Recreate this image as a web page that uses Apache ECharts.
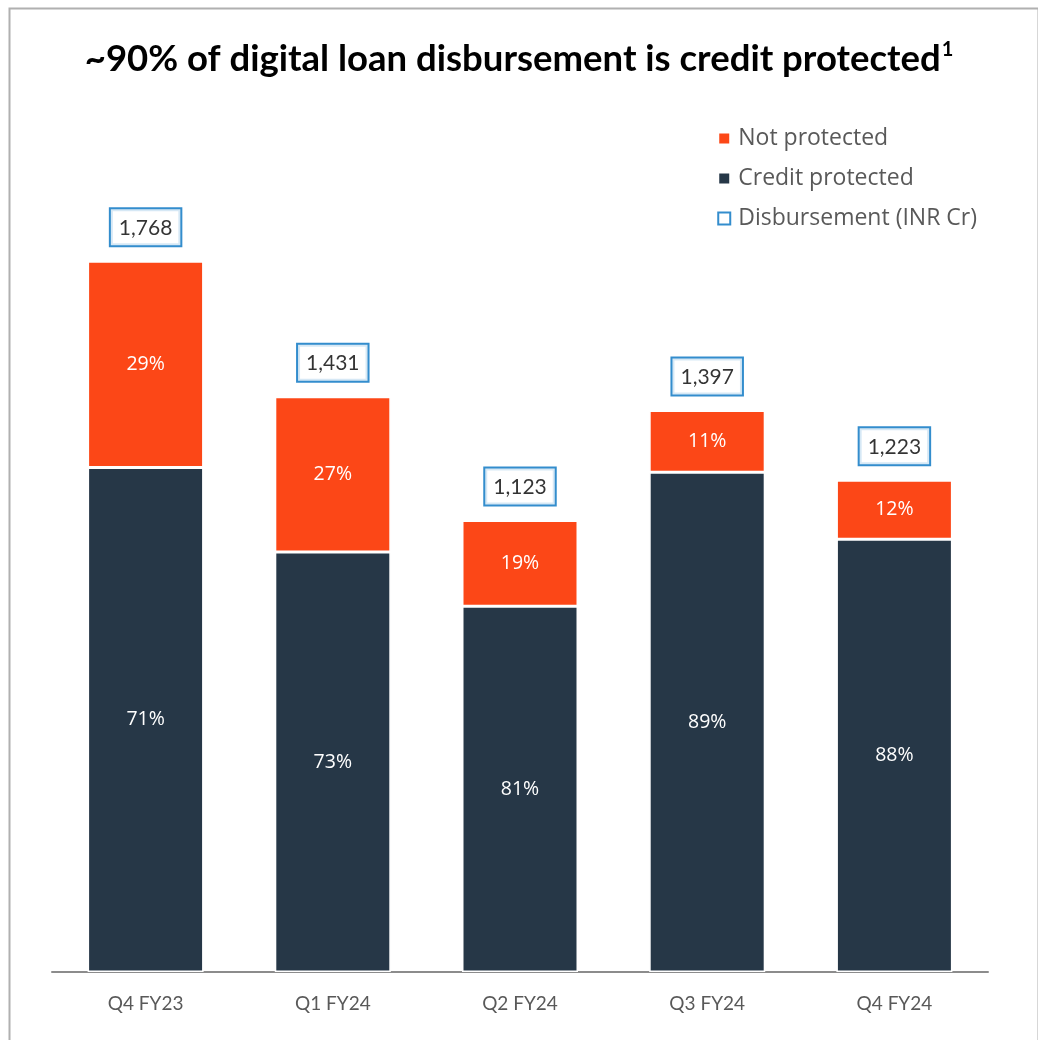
<!DOCTYPE html>
<html>
<head>
<meta charset="utf-8">
<script src="https://cdn.jsdelivr.net/npm/echarts@6/dist/echarts.min.js"></script>
<style>html,body{margin:0;padding:0;background:#fff}#c{width:1038px;height:1040px}</style>
</head>
<body>
<div id="c"></div>
<script>
const categories = ['Q4 FY23', 'Q1 FY24', 'Q2 FY24', 'Q3 FY24', 'Q4 FY24'];
const disbursement = [1768, 1431, 1123, 1397, 1223];
const protectedPct = [71, 73, 81, 89, 88];
const notProtectedPct = [29, 27, 19, 11, 12];

const protectedVals = disbursement.map((t, i) => t * protectedPct[i] / 100);
const notProtectedVals = disbursement.map((t, i) => t * notProtectedPct[i] / 100);

const FONT = 'Lato';
const FONT2 = 'Open Sans';
const chart = echarts.init(document.getElementById('c'));
chart.setOption({
  animation: false,
  backgroundColor: '#fff',
  graphic: [{
    type: 'rect', left: 7, top: 6,
    shape: { width: 1029, height: 1060 },
    style: { fill: 'none', stroke: '#b0b0b0', lineWidth: 2 }, silent: true
  }],
  title: {
    left: 'center', top: 35,
    text: '{t|~90% of digital loan disbursement is credit protected}{s|1}',
    textStyle: {
      rich: {
        t: { fontFamily: FONT, fontWeight: 'bold', fontSize: 36.5, color: '#000' },
        s: { fontFamily: FONT, fontWeight: 'bold', fontSize: 20, color: '#000', padding: [0, 0, 18, 1] }
      }
    }
  },
  legend: {
    orient: 'vertical', right: 56, top: 122, align: 'left',
    itemWidth: 12, itemHeight: 12, itemGap: 17,
    textStyle: { fontFamily: FONT2, fontSize: 23, color: '#595959', lineHeight: 22, padding: [0, 0, 0, 3] },
    data: [
      { name: 'Not protected', icon: 'rect' },
      { name: 'Credit protected', icon: 'rect' },
      { name: 'Disbursement (INR Cr)', icon: 'rect', itemStyle: { color: '#fff', borderColor: '#0070C0', borderWidth: 2 } }
    ]
  },
  grid: { left: 52, right: 50, top: 168, bottom: 68 },
  xAxis: {
    type: 'category', data: categories,
    axisLine: { lineStyle: { color: '#8c8c8c', width: 2 } },
    axisTick: { show: false },
    axisLabel: { fontFamily: FONT, fontSize: 19, color: '#595959', margin: 22 }
  },
  yAxis: { type: 'value', min: 0, max: 2000, show: false, splitLine: { show: false } },
  series: [
    {
      name: 'Credit protected', type: 'bar', stack: 'a', barWidth: 116, data: protectedVals,
      itemStyle: { color: '#263747', borderColor: '#fff', borderWidth: 1.5 },
      label: { show: true, position: 'inside', fontFamily: FONT2, fontSize: 19.5, color: '#fff',
        formatter: p => protectedPct[p.dataIndex] + '%' }
    },
    {
      name: 'Not protected', type: 'bar', stack: 'a', barWidth: 116, data: notProtectedVals,
      itemStyle: { color: '#FC4717', borderColor: '#fff', borderWidth: 1.5 },
      label: { show: true, position: 'inside', fontFamily: FONT2, fontSize: 19.5, color: '#fff',
        formatter: p => notProtectedPct[p.dataIndex] + '%' }
    },
    {
      name: 'Disbursement (INR Cr)', type: 'scatter', data: disbursement, symbolSize: 0,
      itemStyle: { color: '#fff', borderColor: '#0070C0', borderWidth: 2 },
      label: {
        show: true, position: 'top', distance: 16,
        fontFamily: FONT, fontSize: 21, color: '#000',
        textBorderWidth: 0,
        backgroundColor: '#fff', borderColor: '#0070C0', borderWidth: 2,
        padding: [8, 8, 7, 8],
        formatter: p => p.value.toLocaleString('en-US')
      }
    }
  ]
});
</script>
</body>
</html>
